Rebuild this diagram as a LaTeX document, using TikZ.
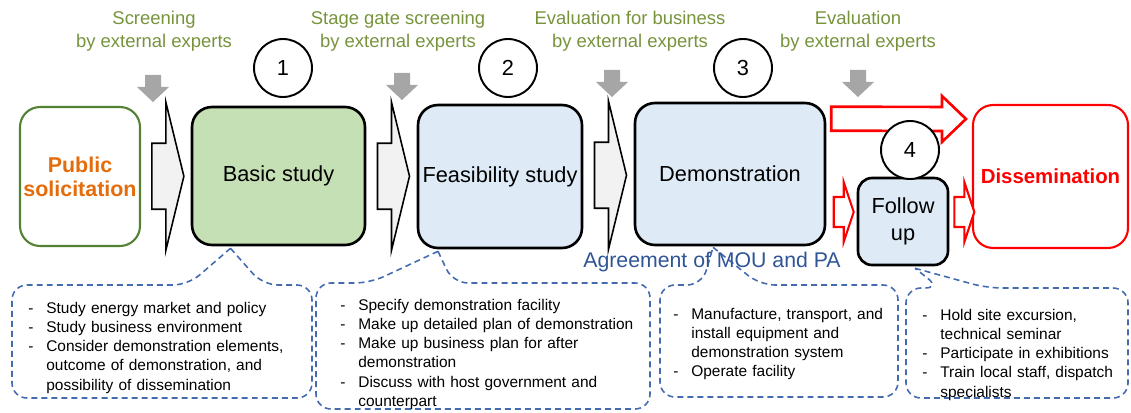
\documentclass[tikz,border=0pt]{standalone}
\usepackage{fontspec}
\setmainfont{Liberation Sans}
\usetikzlibrary{calc}

\definecolor{flowSketchGreenFill}{RGB}{197,224,180}
\definecolor{flowSketchBlueFill}{RGB}{222,235,247}
\definecolor{flowSketchGreenText}{RGB}{119,147,60}
\definecolor{flowSketchGreenLine}{RGB}{84,130,53}
\definecolor{flowSketchOrange}{RGB}{228,108,10}
\definecolor{flowSketchRed}{RGB}{255,0,0}
\definecolor{flowSketchNavy}{RGB}{47,85,151}
\definecolor{flowSketchDash}{RGB}{68,106,176}
\definecolor{flowSketchGray}{RGB}{166,166,166}
\definecolor{flowSketchChevronFill}{RGB}{242,242,242}
\tikzset{flowSketchStage/.style={
    font=\fontsize{12.4}{14}\selectfont,
    draw=black,
    line width=1.5pt,
    rounded corners=0.4cm,
    align=center,
    inner sep=0pt,
  }
}
\tikzset{flowSketchEnd/.style={
    font=\fontsize{12.2}{13.6}\selectfont\bfseries,
    line width=1.2pt,
    rounded corners=0.4cm,
    fill=white,
    align=center,
    inner sep=0pt,
  }
}
\tikzset{flowSketchNumber/.style={
    circle,
    draw=black,
    fill=white,
    line width=1.1pt,
    minimum size=1.16cm,
    inner sep=0pt,
    font=\fontsize{12.4}{14}\selectfont,
  }
}
\tikzset{flowSketchGate/.style={
    font=\fontsize{10.5}{13}\selectfont,
    text=flowSketchGreenText,
    align=center,
    inner sep=0pt,
  }
}
\tikzset{flowSketchCallout/.style={
    draw=flowSketchDash,
    line width=0.9pt,
    dash pattern=on 3.4pt off 2.3pt,
    rounded corners=0.3cm,
  }
}
\tikzset{flowSketchNote/.style={
    font=\fontsize{8.8}{10.9}\selectfont,
    align=left,
    anchor=north west,
    inner sep=0pt,
  }
}
\tikzset{flowSketchChevronLine/.style={
    draw=black,
    fill=flowSketchChevronFill,
    line width=0.9pt,
  }
}
\tikzset{flowSketchRedArrow/.style={
    draw=flowSketchRed,
    fill=white,
    line width=1.5pt,
  }
}
\tikzset{flowSketchChevron/.pic={
    \draw[flowSketchChevronLine] (-14,-33) -- (0,-33) -- (0,-74) -- (18,0)
      -- (0,74) -- (0,33) -- (-14,33) -- cycle;
  }
}
\tikzset{flowSketchDrop/.pic={
    \fill[flowSketchGray] (-8,-27) -- (8,-27) -- (8,-15) -- (16,-15)
      -- (0,0) -- (-16,-15) -- (-8,-15) -- cycle;
  }
}
\tikzset{flowSketchStep/.pic={
    \draw[flowSketchRedArrow, line width=1.2pt] (-10,-15) -- (0,-15) -- (0,-30)
      -- (10,0) -- (0,30) -- (0,15) -- (-10,15) -- cycle;
  }
}
\newcommand{\flowSketchItem}[1]{\par\hangindent=0.36cm\hangafter=1
  \noindent\makebox[0.36cm][l]{-}#1\par}
\newcommand{\flowSketchDrawStages}{
  \node [flowSketchEnd, draw=flowSketchGreenLine, text=flowSketchOrange,
    minimum width=2.4cm, minimum height=2.78cm] (pub)
  at (80,176.5) {Public\\solicitation};
  \node [flowSketchStage, fill=flowSketchGreenFill,
    minimum width=3.46cm, minimum height=2.76cm] (basic)
  at (278.5,176) {Basic study};
  \node [flowSketchStage, fill=flowSketchBlueFill,
    minimum width=3.28cm, minimum height=2.86cm] (feas)
  at (500,176.5) {Feasibility study};
  \node [flowSketchStage, fill=flowSketchBlueFill,
    minimum width=3.8cm, minimum height=2.84cm] (demo)
  at (730,174) {Demonstration};
  \node [flowSketchStage, fill=flowSketchBlueFill, rounded corners=0.28cm,
    minimum width=1.8cm, minimum height=1.74cm,
    font=\fontsize{12.4}{15.3}\selectfont] (follow)
  at (903,221.5) {Follow\\up};
  \node [flowSketchEnd, draw=flowSketchRed, text=flowSketchRed,
    minimum width=3.1cm, minimum height=2.86cm,
    font=\fontsize{11.6}{14}\selectfont\bfseries] (diss)
  at (1050.5,176.5) {Dissemination};
}
\newcommand{\flowSketchConnectStages}{
  \path ($(pub.east)!0.5!(basic.west)$) pic {flowSketchChevron};
  \path ($(basic.east)!0.5!(feas.west)$) pic {flowSketchChevron};
  \path ($(feas.east)!0.5!(demo.west)$) pic {flowSketchChevron};
  \coordinate (redStart) at ($(demo.north east)+(5,17)$);
  \coordinate (redEnd) at ($(diss.north west)+(-6,15)$);
  \draw[flowSketchRedArrow] ($(redStart)+(0,-12)$) -- ($(redEnd)+(-24,-12)$)
    -- ($(redEnd)+(-24,-23)$) -- (redEnd) -- ($(redEnd)+(-24,23)$)
    -- ($(redEnd)+(-24,12)$) -- ($(redStart)+(0,12)$) -- cycle;
  \path ($(follow.west)+(-13,-9.5)$) pic {flowSketchStep};
  \path ($(follow.east)+(15,-9.5)$) pic {flowSketchStep};
}
\newcommand{\flowSketchDrawCallouts}{
  \coordinate (tipA) at ($(basic.south)+(-48,2)$);
  \coordinate (tipB) at ($(feas.south)+(-62,2)$);
  \coordinate (tipC) at ($(demo.south)+(-17,1)$);
  \coordinate (tipD) at ($(follow.south)+(12,2)$);
  \draw[flowSketchCallout] (tipA) -- (263,285) -- (312,285) -- (312,398)
    -- (12,398) -- (12,285) -- (188,285) -- (tipA);
  \draw[flowSketchCallout] (tipB) -- (453,283) -- (650,283) -- (650,409)
    -- (316,409) -- (316,283) -- (370,283) -- (tipB);
  \draw[flowSketchCallout] (tipC) -- (760,285) -- (898,285) -- (898,397)
    -- (660,397) -- (660,285) -- (702,285) -- (tipC);
  \draw[flowSketchCallout] (tipD) -- (987,288) -- (1128,288) -- (1128,398)
    -- (906,398) -- (906,288) -- (940,288) -- (tipD);
}

\begin{document}
\begin{tikzpicture}[x=0.02cm, y=-0.02cm]
      \useasboundingbox (0,0) rectangle (1131,412);
      \flowSketchDrawStages
      \flowSketchConnectStages
      \flowSketchDrawCallouts

      \node [flowSketchNumber] (n1) at (283,68) {1};
      \node [flowSketchNumber] (n2) at (508,68) {2};
      \node [flowSketchNumber] (n3) at (743,68) {3};
      \node [flowSketchNumber] (n4) at (910,150) {4};

      \node [flowSketchGate] (gate1) at (154,31) {Screening\\by external experts};
      \node [flowSketchGate] (gate2) at (398,31) {Stage gate screening\\by external experts};
      \node [flowSketchGate] (gate3) at (630,31) {Evaluation for business\\by external experts};
      \node [flowSketchGate] (gate4) at (858,31) {Evaluation\\by external experts};
      \path (153,102) pic {flowSketchDrop};
      \path (402,100) pic {flowSketchDrop};
      \path (612,97) pic {flowSketchDrop};
      \path (858,97) pic {flowSketchDrop};

      \node [font=\fontsize{12.1}{14}\selectfont, text=flowSketchNavy, inner sep=0pt] (mou)
      at (712,262) {Agreement of MOU and PA};

      \node [flowSketchNote, text width=5.5cm] (noteA) at (28,294) {%
        \flowSketchItem{Study energy market and policy}%
        \flowSketchItem{Study business environment}%
        \flowSketchItem{Consider demonstration elements,\newline outcome of demonstration, and\newline possibility of dissemination}};
      \node [flowSketchNote, text width=6.2cm] (noteB) at (340,291) {%
        \flowSketchItem{Specify demonstration facility}%
        \flowSketchItem{Make up detailed plan of demonstration}%
        \flowSketchItem{Make up business plan for after\newline demonstration}%
        \flowSketchItem{Discuss with host government and\newline counterpart}};
      \node [flowSketchNote, text width=4.4cm] (noteC) at (673,300) {%
        \flowSketchItem{Manufacture, transport, and\newline install equipment and\newline demonstration system}%
        \flowSketchItem{Operate facility}};
      \node [flowSketchNote, text width=4.0cm] (noteD) at (922,301) {%
        \flowSketchItem{Hold site excursion,\newline technical seminar}%
        \flowSketchItem{Participate in exhibitions}%
        \flowSketchItem{Train local staff, dispatch\newline specialists}};
    \end{tikzpicture}
\end{document}
